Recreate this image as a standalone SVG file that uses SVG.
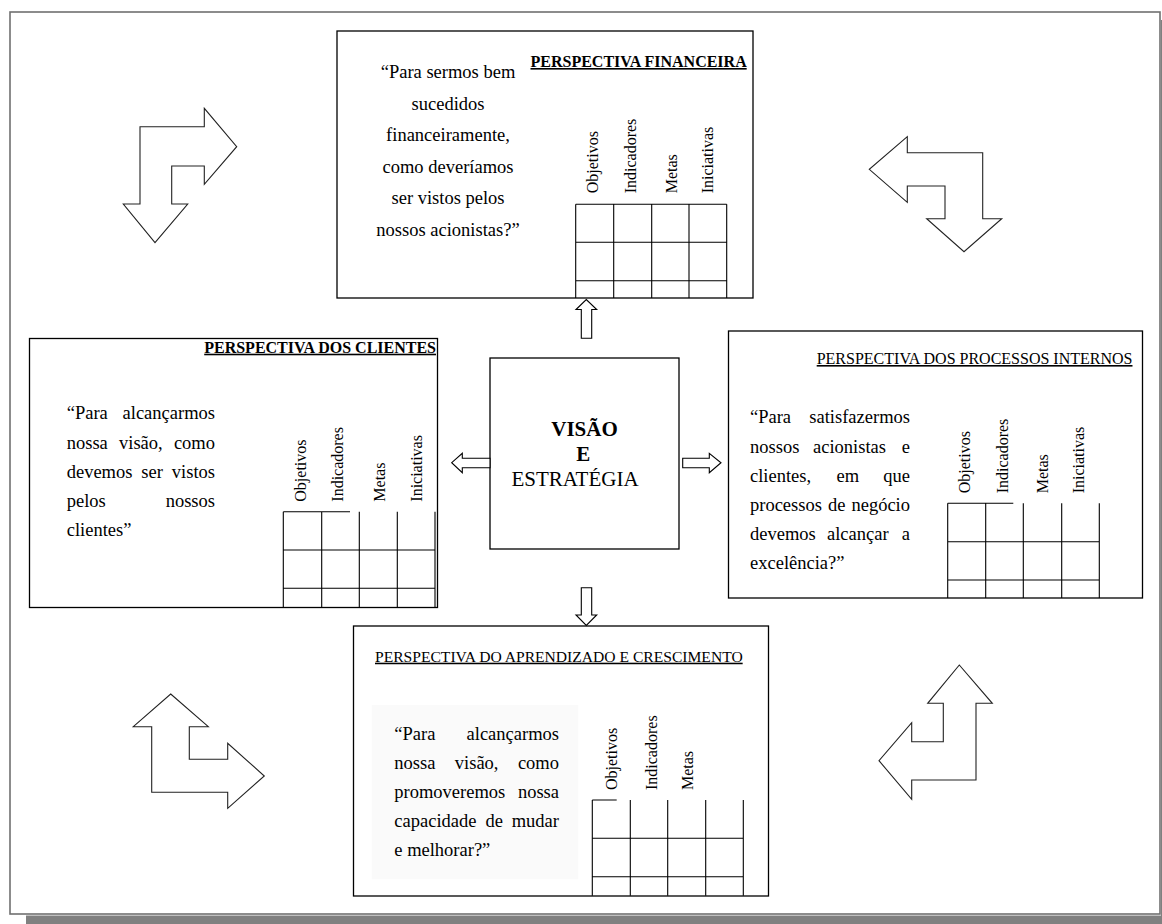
<svg xmlns="http://www.w3.org/2000/svg" width="1162" height="924" viewBox="0 0 1162 924">
<style>
  .box{fill:#fff;stroke:#000;stroke-width:1.3}
  .grid{fill:none;stroke:#000;stroke-width:1.1}
  .blk{fill:#fff;stroke:#000;stroke-width:1.1;stroke-linejoin:miter}
  .cyc{fill:#fff;stroke:#222;stroke-width:1.1;stroke-linejoin:miter}
  text{font-family:"Liberation Serif","Times New Roman",serif;fill:#000}
  .t{font-size:18.5px}
  .h{font-size:16px}
  .ttl{font-size:16px;text-decoration:underline}
  .b{font-weight:bold}
</style>
<rect x="0" y="0" width="1162" height="924" fill="#fff"/>
<rect x="26" y="915.5" width="1136" height="9" fill="#808080"/>
<rect x="1161" y="20" width="1" height="900" fill="#808080"/>
<rect x="10" y="12" width="1150" height="902" fill="#fff" stroke="#707070" stroke-width="1.6"/>

<g id="cycle-arrows">
  <polygon class="cyc" points="140,126.7 204.3,126.7 204.3,108.3 236.7,146.7 204.3,184.3 204.3,166 171.7,166 171.7,204 187.7,204 155,242.7 123.3,204 140,204"/>
  <polygon class="cyc" points="907.3,136.7 907.3,152.7 982.7,152.7 982.7,218.7 1001.7,218.7 964,251.7 926.7,218.7 945,218.7 945,186 907.3,186 907.3,202.3 869.3,169.3"/>
  <polygon class="cyc" points="170.7,694 208.3,726.7 189.3,726.7 189.3,759.3 227.7,759.3 227.7,743.3 264.3,776 227.7,808.3 227.7,792.3 151.7,792.3 151.7,726.7 133.3,726.7"/>
  <polygon class="cyc" points="959.3,665 992.3,703.3 976,703.3 976,780 911.7,780 911.7,799.3 879,760.7 911.7,722.7 911.7,741.7 943.3,741.7 943.3,703.3 927.7,703.3"/>
</g>

<g id="financeira">
  <rect class="box" x="337" y="31" width="416" height="267"/>
  <text class="ttl b" x="746.7" y="67" text-anchor="end">PERSPECTIVA FINANCEIRA</text>
  <g class="t" text-anchor="middle">
    <text class="t" x="448" y="78.3">“Para sermos bem</text>
    <text class="t" x="448" y="109.8">sucedidos</text>
    <text class="t" x="448" y="141.3">financeiramente,</text>
    <text class="t" x="448" y="172.8">como deveríamos</text>
    <text class="t" x="448" y="204.3">ser vistos pelos</text>
    <text class="t" x="448" y="235.8">nossos acionistas?”</text>
  </g>
  <path class="grid" d="M575.7 204.3H726.7M575.7 242.3H726.7M575.7 280.7H726.7M575.7 204.3V298M613.7 204.3V298M651.7 204.3V298M689 204.3V298M726.7 204.3V298"/>
  <text class="h" transform="translate(598.3,193.3) rotate(-90)">Objetivos</text>
  <text class="h" transform="translate(635.7,193.3) rotate(-90)">Indicadores</text>
  <text class="h" transform="translate(676.7,193.3) rotate(-90)">Metas</text>
  <text class="h" transform="translate(713.3,193.3) rotate(-90)">Iniciativas</text>
</g>

<g id="clientes">
  <rect class="box" x="29.5" y="338.5" width="408" height="269"/>
  <text class="ttl b" x="436" y="352.7" text-anchor="end">PERSPECTIVA DOS CLIENTES</text>
  <text class="t" x="66.7" y="419.3">“Para</text>
  <text class="t" x="215" y="419.3" text-anchor="end">alcançarmos</text>
  <text class="t" x="66.7" y="448.5">nossa</text>
  <text class="t" x="119" y="448.5">visão,</text>
  <text class="t" x="215" y="448.5" text-anchor="end">como</text>
  <text class="t" x="66.7" y="477.7">devemos</text>
  <text class="t" x="141.3" y="477.7">ser</text>
  <text class="t" x="215" y="477.7" text-anchor="end">vistos</text>
  <text class="t" x="66.7" y="506.8">pelos</text>
  <text class="t" x="215" y="506.8" text-anchor="end">nossos</text>
  <text class="t" x="66.7" y="536">clientes”</text>
  <path class="grid" d="M283.3 511.7H350M283.3 550H435M283.3 588.3H435M283.3 511.7V607.7M321.7 511.7V607.7M359.3 511.7V607.7M397.3 511.7V607.7M435 511.7V607.7"/>
  <text class="h" transform="translate(306,501.7) rotate(-90)">Objetivos</text>
  <text class="h" transform="translate(343.3,501.7) rotate(-90)">Indicadores</text>
  <text class="h" transform="translate(385,501.7) rotate(-90)">Metas</text>
  <text class="h" transform="translate(421.7,501.7) rotate(-90)">Iniciativas</text>
</g>

<g id="processos">
  <rect class="box" x="728.5" y="331" width="414" height="267"/>
  <text class="ttl" x="816.7" y="364">PERSPECTIVA DOS PROCESSOS INTERNOS</text>
  <text class="t" x="750" y="423.3">“Para</text>
  <text class="t" x="910" y="423.3" text-anchor="end">satisfazermos</text>
  <text class="t" x="750" y="452.7">nossos</text>
  <text class="t" x="813" y="452.7">acionistas</text>
  <text class="t" x="910" y="452.7" text-anchor="end">e</text>
  <text class="t" x="750" y="481.7">clientes,</text>
  <text class="t" x="836.5" y="481.7">em</text>
  <text class="t" x="910" y="481.7" text-anchor="end">que</text>
  <text class="t" x="750" y="510.7">processos</text>
  <text class="t" x="828" y="510.7">de</text>
  <text class="t" x="910" y="510.7" text-anchor="end">negócio</text>
  <text class="t" x="750" y="540">devemos</text>
  <text class="t" x="827" y="540">alcançar</text>
  <text class="t" x="910" y="540" text-anchor="end">a</text>
  <text class="t" x="750" y="569">excelência?”</text>
  <path class="grid" d="M947.7 503.3H1013.3M947.7 541.7H1099.3M947.7 580H1099.3M947.7 503.3V598M985.7 503.3V598M1023.3 503.3V598M1061.7 503.3V598M1099.3 503.3V598"/>
  <text class="h" transform="translate(970,493.3) rotate(-90)">Objetivos</text>
  <text class="h" transform="translate(1008.3,493.3) rotate(-90)">Indicadores</text>
  <text class="h" transform="translate(1048.3,493.3) rotate(-90)">Metas</text>
  <text class="h" transform="translate(1084,493.3) rotate(-90)">Iniciativas</text>
</g>

<g id="aprendizado">
  <rect class="box" x="353.5" y="626" width="415" height="270"/>
  <text class="ttl" x="375" y="661.7" style="font-size:15.6px">PERSPECTIVA DO APRENDIZADO E CRESCIMENTO</text>
  <rect x="371.7" y="705" width="206.6" height="174.3" fill="#fafafa"/>
  <text class="t" x="394.3" y="740">“Para</text>
  <text class="t" x="559" y="740" text-anchor="end">alcançarmos</text>
  <text class="t" x="394.3" y="769">nossa</text>
  <text class="t" x="454.8" y="769">visão,</text>
  <text class="t" x="559" y="769" text-anchor="end">como</text>
  <text class="t" x="394.3" y="798.3">promoveremos</text>
  <text class="t" x="559" y="798.3" text-anchor="end">nossa</text>
  <text class="t" x="394.3" y="827.3">capacidade</text>
  <text class="t" x="485.4" y="827.3">de</text>
  <text class="t" x="559" y="827.3" text-anchor="end">mudar</text>
  <text class="t" x="394.3" y="856">e melhorar?”</text>
  <path class="grid" d="M592.3 800H616.7M592.3 838.3H743.3M592.3 876.7H743.3M592.3 800V895.7M630.3 800V895.7M667.7 800V895.7M705.7 800V895.7M743.3 800V895.7"/>
  <text class="h" transform="translate(616.7,790) rotate(-90)">Objetivos</text>
  <text class="h" transform="translate(656.7,790) rotate(-90)">Indicadores</text>
  <text class="h" transform="translate(693.3,790) rotate(-90)">Metas</text>
</g>

<g id="visao">
  <rect class="box" x="490" y="358" width="189" height="191"/>
  <text x="584.5" y="435.7" text-anchor="middle" font-weight="bold" style="font-size:21px">VISÃO</text>
  <text x="583.3" y="461" text-anchor="middle" font-weight="bold" style="font-size:21px">E</text>
  <text x="575" y="485.7" text-anchor="middle" style="font-size:21px">ESTRATÉGIA</text>
</g>

<g id="connectors">
  <polygon class="blk" points="581.3,338.3 581.3,309.5 576,309.5 586.3,299.5 596.7,309.5 591.7,309.5 591.7,338.3"/>
  <polygon class="blk" points="490,458.3 462.3,458.3 462.3,453.3 451.7,462.7 462.3,472.7 462.3,467.7 490,467.7"/>
  <polygon class="blk" points="682.7,458.3 709.3,458.3 709.3,453.3 721,462.7 709.3,472.7 709.3,467.7 682.7,467.7"/>
  <polygon class="blk" points="581.3,587.7 591.7,587.7 591.7,615 596.7,615 586.3,625.5 576,615 581.3,615"/>
</g>
</svg>
